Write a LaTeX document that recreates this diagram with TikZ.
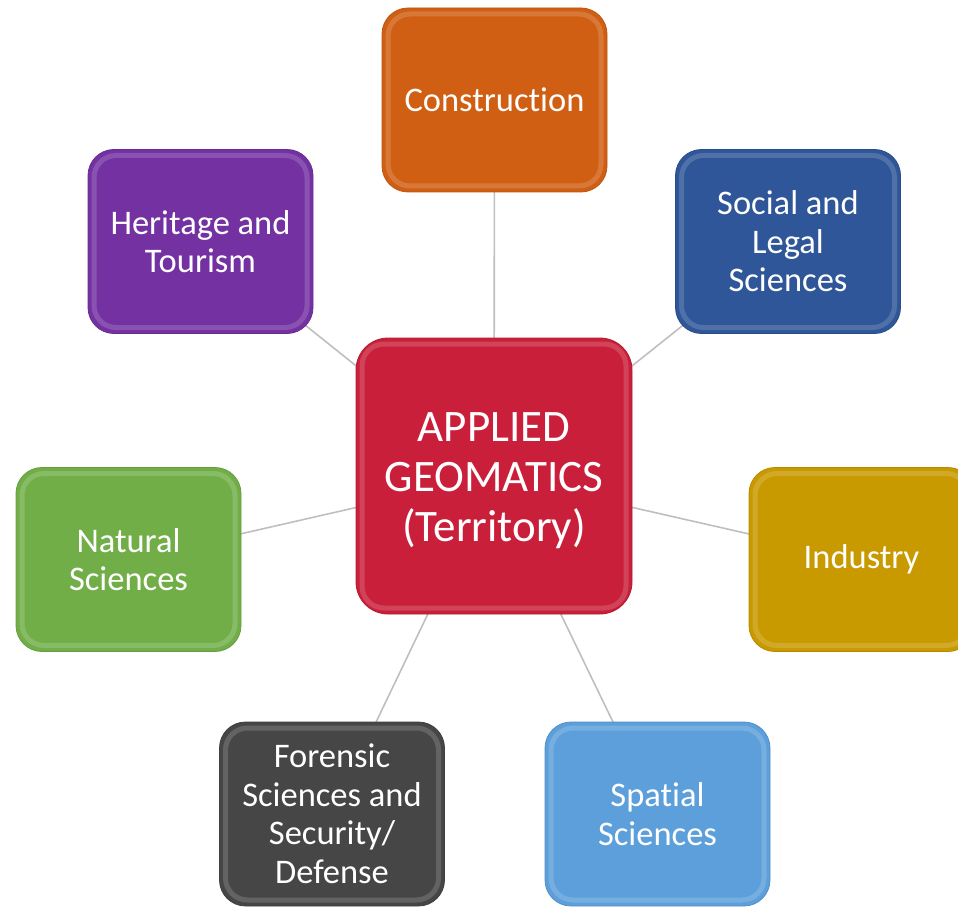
\documentclass[tikz,border=0pt]{standalone}
\usepackage{fontspec}
\setmainfont{Carlito}[RawFeature={-liga;-clig;-dlig}]
\usetikzlibrary{backgrounds}
\definecolor{cOrange}{HTML}{D05F14}
\definecolor{cPurple}{HTML}{7431A2}
\definecolor{cBlue}{HTML}{2F5698}
\definecolor{cRed}{HTML}{C91F3A}
\definecolor{cGreen}{HTML}{71AE48}
\definecolor{cGold}{HTML}{C99900}
\definecolor{cGray}{HTML}{464646}
\definecolor{cSky}{HTML}{5C9FDB}
\definecolor{cLine}{HTML}{BFBFBF}
\tikzset{
  box/.style={fill=#1, draw=#1!90!black, line width=0.8pt, rounded corners=26pt,
    minimum width=225pt, minimum height=184pt, inner sep=0pt,
    text=white, align=center,
    font=\fontsize{34.5}{38.5}\selectfont,
    path picture={\draw[white, opacity=0.16, line width=5pt, rounded corners=22pt]
      ([shift={(6pt,-6pt)}]path picture bounding box.north west) rectangle
      ([shift={(-6pt,6pt)}]path picture bounding box.south east);}},
  hub/.style={box=#1, minimum width=276pt, minimum height=276pt, rounded corners=32pt},
  hubtext/.style={text=white, align=center, inner sep=0pt, font=\fontsize{45}{50}\selectfont},
  link/.style={draw=cLine, line width=1.6pt}
}
\begin{document}
\begin{tikzpicture}[x=1pt, y=-1pt]
\useasboundingbox (0,0) rectangle (958,909);
\clip (0,0) rectangle (958,909);
\node[hub=cRed] (hub) at (494,476) {};
\node[hubtext] (hubtxt) at ([yshift=-5pt]hub.center) {APPLIED\\GEOMATICS\\(Territory)};
\node[box=cOrange] (con) at (494.5,100) {Construction};
\node[box=cPurple] (her) at (200.5,241.5) {Heritage and\\Tourism};
\node[box=cBlue] (soc) at (788,241.5) {Social and\\Legal\\Sciences};
\node[box=cGreen] (nat) at (128.5,559.5) {Natural\\Sciences};
\node[box=cGold] (ind) at (861.5,559.5) {Industry};
\node[box=cGray] (for) at (332,814) {Forensic\\Sciences and\\Security/\\Defense};
\node[box=cSky] (spa) at (657.5,814) {Spatial\\Sciences};
\begin{pgfonlayer}{background}
\foreach \n in {con,her,soc,nat,ind,for,spa}
  \draw[link] (hub.center) -- (\n.center);
\end{pgfonlayer}
\end{tikzpicture}
\end{document}
